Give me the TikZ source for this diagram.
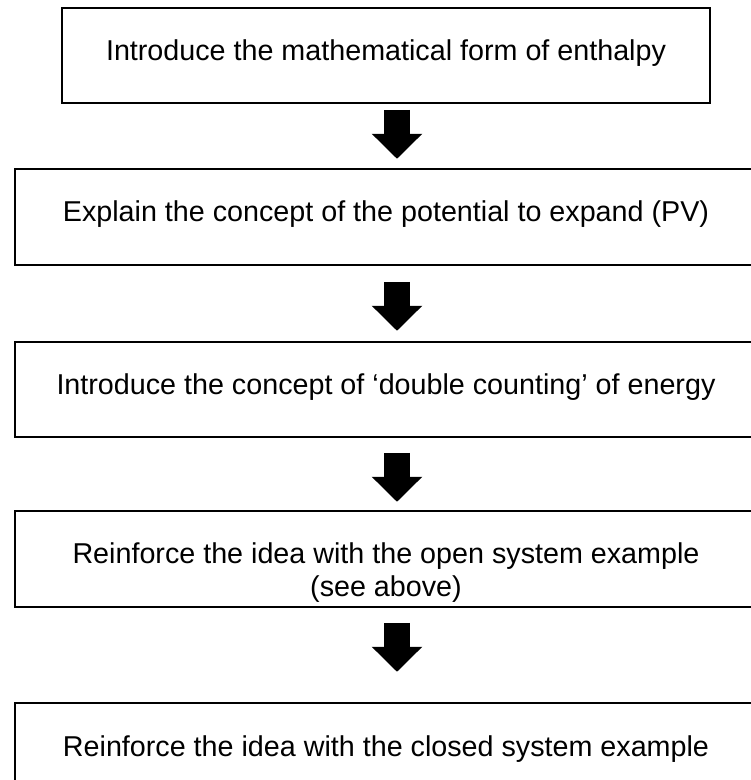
\documentclass[tikz,border=0pt]{standalone}
\usepackage{fontspec}
\setmainfont{Liberation Sans}
\usetikzlibrary{arrows.meta}
\tikzset{
  box/.style={draw=black, line width=1.6pt, fill=white, rectangle, inner sep=0pt},
  lbl/.style={anchor=base, inner sep=0pt, font=\fontsize{28.7}{33}\selectfont},
  blockarrow/.style={line width=26pt, line cap=butt, -{Triangle[width=49pt,length=25pt]}}
}
\begin{document}
\begin{tikzpicture}[x=1pt,y=-1pt]
\useasboundingbox (0,0) rectangle (751,780);
\clip (0,0) rectangle (751,780);
% boxes
\node[box, minimum width=648pt, minimum height=95pt] (b1) at (386,55.5) {};
\node[box, minimum width=742pt, minimum height=96pt] (b2) at (386,217) {};
\node[box, minimum width=742pt, minimum height=95pt] (b3) at (386,389.5) {};
\node[box, minimum width=742pt, minimum height=96pt] (b4) at (386,559) {};
\node[box, minimum width=742pt, minimum height=96pt] (b5) at (386,751) {};
% labels
\node[lbl] (t1) at ([yshift=-53.5pt]b1.north) {Introduce the mathematical form of enthalpy};
\node[lbl] (t2) at ([yshift=-53.5pt]b2.north) {Explain the concept of the potential to expand (PV)};
\node[lbl] (t3) at ([yshift=-53.5pt]b3.north) {Introduce the concept of ‘double counting’ of energy};
\node[lbl] (t4a) at ([yshift=-53pt]b4.north) {Reinforce the idea with the open system example};
\node[lbl] (t4b) at ([yshift=-86pt]b4.north) {(see above)};
\node[lbl] (t5) at ([yshift=-54pt]b5.north) {Reinforce the idea with the closed system example};
% arrows
\draw[blockarrow] ([xshift=11pt]b1.south) ++(0,6) -- ++(0,49);
\draw[blockarrow] ([xshift=11pt]b2.south) ++(0,16) -- ++(0,49);
\draw[blockarrow] ([xshift=11pt]b3.south) ++(0,15) -- ++(0,49);
\draw[blockarrow] ([xshift=11pt]b4.south) ++(0,15) -- ++(0,49);
\end{tikzpicture}
\end{document}
